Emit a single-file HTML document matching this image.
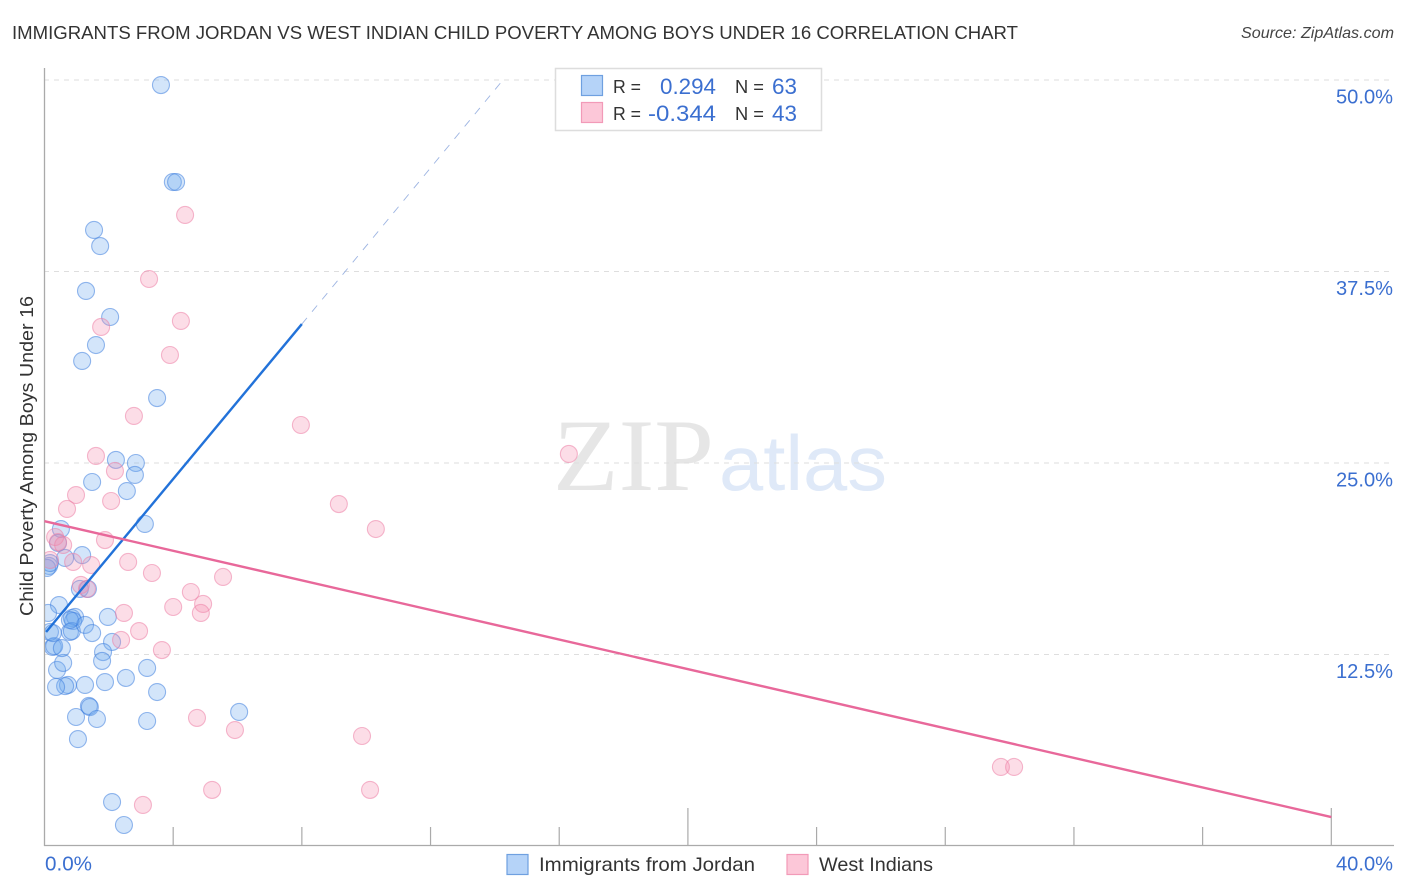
<!DOCTYPE html>
<html lang="en">
<head>
<meta charset="utf-8">
<title>Child Poverty Correlation Chart</title>
<style>
html,body{margin:0;padding:0;background:#fff;width:1406px;height:892px;overflow:hidden}
svg{display:block}
text{font-family:"Liberation Sans",sans-serif}
</style>
</head>
<body>
<svg id="chart" xmlns="http://www.w3.org/2000/svg" width="1406" height="892" viewBox="0 0 1406 892">
<defs><clipPath id="plot-clip"><rect x="45" y="60" width="1349" height="786"/></clipPath></defs>
<text x="12" y="39" font-size="18.5" fill="#333" textLength="1006" lengthAdjust="spacingAndGlyphs">IMMIGRANTS FROM JORDAN VS WEST INDIAN CHILD POVERTY AMONG BOYS UNDER 16 CORRELATION CHART</text>
<text x="1394" y="38" font-size="16" font-style="italic" fill="#444" text-anchor="end" textLength="153" lengthAdjust="spacingAndGlyphs">Source: ZipAtlas.com</text>
<g>
<text x="553" y="490" font-size="103" fill="#e6e6e6" style="font-family:'Liberation Serif',serif" textLength="161" lengthAdjust="spacingAndGlyphs">ZIP</text>
<text x="719" y="490" font-size="78" fill="#dfe9f8" textLength="168" lengthAdjust="spacingAndGlyphs">atlas</text>
</g>
<g id="grid"></g>
<g id="axes"></g>
<g id="marks" clip-path="url(#plot-clip)"></g>
<g id="trends"></g>
<text transform="translate(33,456) rotate(-90)" font-size="18.5" fill="#333" text-anchor="middle" textLength="320" lengthAdjust="spacingAndGlyphs">Child Poverty Among Boys Under 16</text>
<g>
<rect x="555.5" y="68.5" width="266" height="62" fill="#fff" stroke="#ddd" stroke-width="1.5"/>
<rect x="581.5" y="75.5" width="21" height="20" fill="#b5d3f8" stroke="#6fa0e0" stroke-width="1.2"/>
<rect x="581.5" y="102.5" width="21" height="20" fill="#fcc7d8" stroke="#f29ab8" stroke-width="1.2"/>
<text x="613" y="93" font-size="18.5" fill="#333" textLength="28" lengthAdjust="spacingAndGlyphs">R =</text>
<text x="660" y="94" font-size="22" fill="#3b6fd0" textLength="56" lengthAdjust="spacingAndGlyphs">0.294</text>
<text x="735" y="93" font-size="18.5" fill="#333" textLength="29" lengthAdjust="spacingAndGlyphs">N =</text>
<text x="772" y="94" font-size="22" fill="#3b6fd0" textLength="25" lengthAdjust="spacingAndGlyphs">63</text>
<text x="613" y="120" font-size="18.5" fill="#333" textLength="28" lengthAdjust="spacingAndGlyphs">R =</text>
<text x="648" y="121" font-size="22" fill="#3b6fd0" textLength="68" lengthAdjust="spacingAndGlyphs">-0.344</text>
<text x="735" y="120" font-size="18.5" fill="#333" textLength="29" lengthAdjust="spacingAndGlyphs">N =</text>
<text x="772" y="121" font-size="22" fill="#3b6fd0" textLength="25" lengthAdjust="spacingAndGlyphs">43</text>
</g>
<g>
<rect x="507" y="854.5" width="21" height="20" fill="#b5d3f8" stroke="#6fa0e0" stroke-width="1.2"/>
<text x="539" y="871" font-size="19.5" fill="#333" textLength="216" lengthAdjust="spacingAndGlyphs">Immigrants from Jordan</text>
<rect x="787" y="854.5" width="21" height="20" fill="#fcc7d8" stroke="#f29ab8" stroke-width="1.2"/>
<text x="819" y="871" font-size="19.5" fill="#333" textLength="114" lengthAdjust="spacingAndGlyphs">West Indians</text>
</g>
</svg>
<script>
const yTickValues = [12.5, 25, 37.5, 50];
const yTickLabels = ["12.5%", "25.0%", "37.5%", "50.0%"];
const xTickValues = [4, 8, 12, 16, 20, 24, 28, 32, 36, 40];
const xMajorTicks = [20, 40];
const xEndLabels = ["0.0%", "40.0%"];
const jordanX = [3.62,3.99,4.09,1.54,1.73,1.29,2.04,1.60,1.17,3.50,2.22,2.84,2.81,1.48,2.56,3.12,0.51,1.17,0.42,0.64,0.14,0.08,0.17,1.10,1.35,0.45,0.11,0.85,0.95,0.89,0.79,0.85,1.26,1.48,1.97,2.10,1.82,1.79,3.19,2.53,1.88,1.26,0.73,0.64,0.36,0.39,0.58,0.26,0.30,0.54,0.17,0.26,3.50,1.38,1.41,0.98,1.63,3.19,1.04,2.10,2.47,6.05,0.79];
const jordanY = [49.67,43.34,43.34,40.21,39.16,36.23,34.53,32.70,31.66,29.24,25.20,25.00,24.22,23.76,23.17,21.02,20.69,18.99,19.78,18.80,18.28,18.15,18.47,16.78,16.78,15.73,15.21,14.88,14.95,14.69,13.97,14.03,14.43,13.90,14.95,13.32,12.66,12.08,11.62,10.97,10.70,10.51,10.51,10.44,10.38,11.49,11.95,12.99,13.05,12.92,13.97,13.90,10.05,9.14,9.07,8.42,8.29,8.16,6.98,2.87,1.37,8.75,14.75];
const westIndianX = [4.37,3.25,4.24,1.76,3.90,2.78,7.97,16.30,1.60,2.19,0.98,2.07,0.70,9.15,10.30,1.88,0.42,0.33,0.58,0.17,0.89,1.45,2.60,3.34,5.55,1.13,1.32,4.55,4.00,4.93,4.86,2.47,2.94,2.38,3.65,4.74,5.92,9.87,5.21,10.12,3.06,29.73,30.14];
const westIndianY = [41.19,37.01,34.27,33.88,32.05,28.07,27.48,25.59,25.46,24.48,22.91,22.52,22.00,22.32,20.69,19.97,19.84,20.17,19.65,18.67,18.54,18.34,18.54,17.82,17.56,17.04,16.78,16.58,15.60,15.80,15.21,15.21,14.03,13.45,12.79,8.36,7.57,7.18,3.66,3.66,2.68,5.16,5.16];
const jordanTrendX = [0.05, 8.0];
const jordanTrendY = [13.97, 34.07];
const jordanExtensionX = [8.0, 14.25];
const jordanExtensionY = [34.07, 50];
const westIndianTrendX = [0, 40];
const westIndianTrendY = [21.2, 1.89];

const NS = "http://www.w3.org/2000/svg";
function xScale(v) { return 44.5 + v * 32.17; }
function yScale(v) { return 846 - v * 15.32; }
function make(tag, parent, attrs) {
  const el = document.createElementNS(NS, tag);
  for (const k in attrs) el.setAttribute(k, attrs[k]);
  document.getElementById(parent).appendChild(el);
  return el;
}

yTickValues.forEach(function (v, i) {
  const line = make("line", "grid", {x1: 44, x2: 1394, y1: yScale(v), y2: yScale(v), stroke: "#dedede", "stroke-width": 1, "stroke-dasharray": "5 5"});
  
  
  const label = make("text", "axes", {x: 1393, y: yScale(v) + 23.5, "font-size": 20, fill: "#3b6fd0", "text-anchor": "end", textLength: 57, lengthAdjust: "spacingAndGlyphs"});
  label.textContent = yTickLabels[i];
  
  
});

const yAxisLine = make("line", "axes", {x1: 44.5, x2: 44.5, y1: 68, y2: 846, stroke: "#aaa", "stroke-width": 1.3});


const xAxisLine = make("line", "axes", {x1: 44, x2: 1394, y1: 845.5, y2: 845.5, stroke: "#aaa", "stroke-width": 1.3});



xTickValues.forEach(function (v) {
  const top = xMajorTicks.indexOf(v) >= 0 ? 808 : 827;
  const tick = make("line", "axes", {x1: xScale(v), x2: xScale(v), y1: top, y2: 846, stroke: "#aaa", "stroke-width": 1.2});
  
  
});

const xStart = make("text", "axes", {x: 45, y: 870.5, "font-size": 20, fill: "#3b6fd0", textLength: 47, lengthAdjust: "spacingAndGlyphs"});
xStart.textContent = xEndLabels[0];


const xEnd = make("text", "axes", {x: 1393, y: 870.5, "font-size": 20, fill: "#3b6fd0", "text-anchor": "end", textLength: 57, lengthAdjust: "spacingAndGlyphs"});
xEnd.textContent = xEndLabels[1];



jordanX.forEach(function (v, i) {
  const c = make("circle", "marks", {cx: xScale(v), cy: yScale(jordanY[i]), r: 8.5, fill: "#6ea8f0", "fill-opacity": 0.3, stroke: "#3f80de", "stroke-opacity": 0.55, "stroke-width": 1.1});
  
  
});
westIndianX.forEach(function (v, i) {
  const c = make("circle", "marks", {cx: xScale(v), cy: yScale(westIndianY[i]), r: 8.5, fill: "#f590b0", "fill-opacity": 0.3, stroke: "#ec7fa5", "stroke-opacity": 0.55, "stroke-width": 1.1});
  
  
});

const jordanExt = make("line", "trends", {x1: xScale(jordanExtensionX[0]), y1: yScale(jordanExtensionY[0]), x2: xScale(jordanExtensionX[1]), y2: yScale(jordanExtensionY[1]), stroke: "#9db4e2", "stroke-width": 0.9, "stroke-dasharray": "8 8"});


const jordanLine = make("line", "trends", {x1: xScale(jordanTrendX[0]), y1: yScale(jordanTrendY[0]), x2: xScale(jordanTrendX[1]), y2: yScale(jordanTrendY[1]), stroke: "#2272d9", "stroke-width": 2.4});


const westLine = make("line", "trends", {x1: xScale(westIndianTrendX[0]), y1: yScale(westIndianTrendY[0]), x2: xScale(westIndianTrendX[1]), y2: yScale(westIndianTrendY[1]), stroke: "#e8689a", "stroke-width": 2.4});


</script>
</body>
</html>
